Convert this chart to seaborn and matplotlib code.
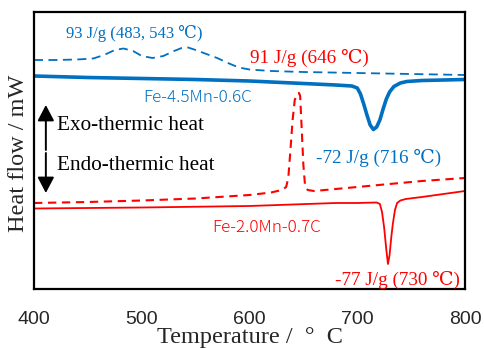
import matplotlib
matplotlib.use("Agg")
import matplotlib.pyplot as plt
import seaborn as sns
import pandas as pd

# ---- data (arbitrary heat-flow units) ----
t_b_dash = [400, 420, 440, 455, 465, 475, 483, 492, 500, 510, 520, 530, 537, 543,
            550, 560, 570, 580, 590, 600, 620, 650, 700, 750, 800]
hf_b_dash = [229, 229, 229.5, 230.5, 234, 239, 240.5, 238, 233, 231, 233, 238, 241, 241.5,
             239, 235, 231, 226, 221.5, 219.5, 218, 217, 216, 215, 214]

t_b_solid = [400, 450, 500, 550, 600, 650, 680, 695, 700, 703, 706, 709, 712, 715,
             718, 721, 724, 727, 730, 734, 740, 746, 760, 780, 800]
hf_b_solid = [213, 211.5, 210.5, 209.5, 208, 205.5, 204, 203, 201, 195, 185, 174, 164, 159.5,
              162, 169, 180, 190, 197, 202.5, 206, 207.5, 208.5, 209, 209.5]

t_r_dash = [400, 450, 500, 550, 600, 620, 630, 634, 636, 638, 640, 642, 644, 646, 647,
            648.5, 650, 651.5, 654, 660, 680, 700, 720, 740, 760, 780, 800]
hf_r_dash = [86, 87, 88.5, 90.5, 94, 96.5, 99, 102, 111, 139, 169, 189, 195, 196, 193,
             159, 124, 104, 99, 98, 100, 102, 104, 106, 108, 109.5, 111]

t_r_solid = [400, 500, 600, 680, 700, 718, 721, 723, 725, 727, 728.5, 730, 731.5, 733,
             735, 737, 740, 745, 760, 780, 800]
hf_r_solid = [80.5, 81.5, 83, 86, 86, 86.5, 85, 77, 61, 39, 25, 34, 51, 65,
              79, 86, 88.5, 90, 92, 95, 98]

x_ticks = [400, 500, 600, 700, 800]

serif = ['Liberation Serif', 'DejaVu Serif', 'Noto Sans CJK JP', 'DejaVu Sans']
sans_cjk = ['Noto Sans CJK JP', 'DejaVu Sans']
BLUE = '#0070C0'
RED = '#FF0000'

sns.set_theme(style='white')
plt.rcParams['font.family'] = ['Liberation Sans', 'DejaVu Sans']

fig = plt.figure(figsize=(4.85, 3.48), dpi=100)
ax = fig.add_axes([34/485, 1-289/348, (465-34)/485, (289-12)/348])

df_bd = pd.DataFrame({'T': t_b_dash, 'hf': hf_b_dash})
df_bs = pd.DataFrame({'T': t_b_solid, 'hf': hf_b_solid})
df_rd = pd.DataFrame({'T': t_r_dash, 'hf': hf_r_dash})
df_rs = pd.DataFrame({'T': t_r_solid, 'hf': hf_r_solid})

sns.lineplot(data=df_bd, x='T', y='hf', ax=ax, color=BLUE, lw=1.3, sort=False)
ax.lines[-1].set_dashes([5, 3])
sns.lineplot(data=df_bs, x='T', y='hf', ax=ax, color=BLUE, lw=2.6, sort=False)
sns.lineplot(data=df_rd, x='T', y='hf', ax=ax, color=RED, lw=1.5, sort=False)
ax.lines[-1].set_dashes([4, 2.7])
sns.lineplot(data=df_rs, x='T', y='hf', ax=ax, color=RED, lw=1.3, sort=False)

ax.set_xlim(400, 800)
ax.set_ylim(0, 277)
ax.set_xticks(x_ticks)
ax.set_xticklabels([str(v) for v in x_ticks], fontsize=14)
ax.set_yticks([])
ax.tick_params(axis='x', direction='in', length=5, width=1.3, color='black', pad=16)
for s in ax.spines.values():
    s.set_color('black')
    s.set_linewidth(1.6)

ax.set_xlabel('Temperature /  °  C', fontsize=17.5, family=serif)
ax.xaxis.label.set_va('center')
ax.xaxis.set_label_coords(0.50, (289 - 337) / 277)
ax.set_ylabel('Heat flow / mW', fontsize=17.5, family=serif)
ax.yaxis.label.set_va('center')
ax.yaxis.set_label_coords((19 - 34) / 431, (289 - 153) / 277)

ax.text(429.7, 256, '93 J/g (483, 543 ℃)', color=BLUE, fontsize=12, family=serif, va='center', ha='left')
ax.text(600.5, 231, '91 J/g (646 ℃)', color=RED, fontsize=13.8, family=serif, va='center', ha='left')
ax.text(501, 192, 'Fe-4.5Mn-0.6C', color=BLUE, fontsize=12.3, family=sans_cjk, fontweight='light', va='center', ha='left')
ax.text(661.7, 131, '-72 J/g (716 ℃)', color=BLUE, fontsize=13.8, family=serif, va='center', ha='left')
ax.text(565, 62, 'Fe-2.0Mn-0.7C', color=RED, fontsize=12.3, family=sans_cjk, fontweight='light', va='center', ha='left')
ax.text(679, 9, '-77 J/g (730 ℃)', color=RED, fontsize=13.8, family=serif, va='center', ha='left')

ax.text(421, 164, 'Exo-thermic heat', color='black', fontsize=15.3, family=serif, va='center', ha='left')
ax.text(421, 124, 'Endo-thermic heat', color='black', fontsize=15.3, family=serif, va='center', ha='left')
arrow = dict(arrowstyle='-|>,head_length=0.8,head_width=0.42', color='black', lw=1.4, shrinkA=0, shrinkB=0)
ax.annotate('', xy=(411, 184), xytext=(411, 139), arrowprops=arrow)
ax.annotate('', xy=(411, 96), xytext=(411, 136), arrowprops=arrow)

fig.savefig('out.png', dpi=100)
